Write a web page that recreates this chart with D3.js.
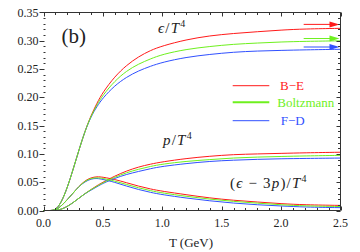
<!DOCTYPE html>
<html><head><meta charset="utf-8">
<script src="https://cdn.jsdelivr.net/npm/d3@7"></script>
<style>html,body{margin:0;padding:0;background:#fff}svg{display:block}</style>
</head><body>
<svg id="c" width="360" height="252"></svg>
<script>
// ---- data ----
const T = [0,0.05,0.1,0.15,0.2,0.25,0.3,0.35,0.4,0.45,0.5,0.6,0.7,0.8,0.9,1.0,1.2,1.4,1.6,1.8,2.0,2.2,2.5];
const epsBE   = [0,0,0,0.014,0.040,0.073,0.108,0.141,0.168,0.190,0.209,0.237,0.257,0.272,0.283,0.291,0.302,0.309,0.313,0.316,0.319,0.321,0.322];
const epsBoltz= [0,0,0,0.014,0.040,0.073,0.108,0.141,0.167,0.187,0.204,0.229,0.247,0.259,0.268,0.276,0.285,0.290,0.294,0.296,0.298,0.299,0.300];
const epsFD   = [0,0,0,0.014,0.040,0.073,0.108,0.141,0.166,0.184,0.199,0.221,0.236,0.247,0.255,0.262,0.271,0.276,0.280,0.282,0.283,0.284,0.285];
const pBE     = [0,0,0,0.002,0.007,0.014,0.022,0.030,0.037,0.044,0.050,0.061,0.070,0.077,0.082,0.086,0.092,0.096,0.099,0.100,0.101,0.102,0.103];
const pBoltz  = [0,0,0,0.002,0.007,0.014,0.022,0.030,0.037,0.043,0.049,0.059,0.067,0.073,0.078,0.082,0.087,0.090,0.093,0.0945,0.0955,0.0965,0.0975];
const pFD     = [0,0,0,0.002,0.007,0.014,0.022,0.030,0.036,0.042,0.048,0.057,0.064,0.069,0.074,0.078,0.083,0.087,0.089,0.0905,0.0915,0.092,0.0927];
const dBE     = [0,0,0,0.008,0.019,0.031,0.043,0.053,0.058,0.060,0.059,0.055,0.049,0.043,0.038,0.034,0.028,0.022,0.018,0.015,0.012,0.010,0.009];
const dBoltz  = [0,0,0,0.008,0.019,0.031,0.043,0.052,0.057,0.058,0.057,0.052,0.046,0.040,0.035,0.031,0.025,0.020,0.016,0.013,0.010,0.008,0.007];
const dFD     = [0,0,0,0.008,0.019,0.031,0.043,0.051,0.056,0.057,0.055,0.050,0.043,0.037,0.032,0.028,0.022,0.017,0.013,0.010,0.008,0.006,0.005];
const sbLimit = [0.329, 0.304, 0.289]; // B-E, Boltzmann, F-D (arrows)
const seriesNames = ["B\u2212E", "Boltzmann", "F\u2212D"];
const xTicks = [0,0.5,1.0,1.5,2.0,2.5];
const xTickLabels = ["0.0","0.5","1.0","1.5","2.0","2.5"];
const yTicks = [0,0.05,0.10,0.15,0.20,0.25,0.30,0.35];
const yTickLabels = ["0.00","0.05","0.10","0.15","0.20","0.25","0.30","0.35"];

// ---- layout ----
const colors = ["#ff1a1a", "#6ef01e", "#3050ff"];
const L = 43.5, R = 340.5, TOP = 12.5, BOT = 210.5;
const x = d3.scaleLinear().domain([0,2.5]).range([L,R]);
const y = d3.scaleLinear().domain([0,0.35]).range([BOT,TOP]);
const svg = d3.select("#c");
svg.append("rect").attr("width",360).attr("height",252).attr("fill","#fff");
const serif = "'Liberation Serif','DejaVu Serif',serif";
const axisCol = "#333";

// curves
const line = d3.line().x((d,i)=>x(T[i])).y(d=>y(d)).curve(d3.curveBasis);
const groups = [[epsBE,pBE,dBE],[epsBoltz,pBoltz,dBoltz],[epsFD,pFD,dFD]];
[0,2,1].forEach(k=>{
  groups[k].forEach(arr=>{
    svg.append("path").attr("d",line(arr)).attr("fill","none")
      .attr("stroke",colors[k]).attr("stroke-width",1);
  });
});

// arrows (Stefan-Boltzmann limits)
sbLimit.forEach((v,k)=>{
  const yy = y(v), x0 = x(2.19), x1 = x(2.5)-1;
  svg.append("line").attr("x1",x0).attr("x2",x1-9).attr("y1",yy).attr("y2",yy)
    .attr("stroke",colors[k]).attr("stroke-width",1);
  svg.append("path").attr("d",`M${x1-10},${yy-3}L${x1},${yy}L${x1-10},${yy+3}Z`)
    .attr("fill",colors[k]);
});

// frame
const fr = svg.append("g").attr("stroke",axisCol).attr("stroke-width",1).attr("fill","none");
fr.append("line").attr("x1",L).attr("x2",R).attr("y1",TOP).attr("y2",TOP);
fr.append("line").attr("x1",L).attr("x2",R).attr("y1",BOT).attr("y2",BOT);
fr.append("line").attr("x1",R).attr("x2",R).attr("y1",TOP).attr("y2",BOT);

// x ticks
const xMinor = d3.range(0,2.501,0.1);
xMinor.forEach(t=>{
  const major = xTicks.some(m=>Math.abs(m-t)<1e-6);
  const len = major?4:2.5;
  const xx = Math.round(x(t))+0.5;
  fr.append("line").attr("x1",xx).attr("x2",xx).attr("y1",BOT).attr("y2",BOT-len);
  fr.append("line").attr("x1",xx).attr("x2",xx).attr("y1",TOP).attr("y2",TOP+len);
});
// y ticks
const yMinor = d3.range(0,0.3501,0.01);
yMinor.forEach(v=>{
  const major = yTicks.some(m=>Math.abs(m-v)<1e-6);
  const yy = Math.round(y(v))+0.5;
  if(major){
    fr.append("line").attr("x1",L-4).attr("x2",L+1).attr("y1",yy).attr("y2",yy);
    fr.append("line").attr("x1",R-4).attr("x2",R).attr("y1",yy).attr("y2",yy);
  } else {
    fr.append("line").attr("x1",L).attr("x2",L+2).attr("y1",yy).attr("y2",yy);
    fr.append("line").attr("x1",R-2.5).attr("x2",R).attr("y1",yy).attr("y2",yy);
  }
});

// tick labels
xTicks.forEach((t,i)=>{
  svg.append("text").attr("x",x(t)).attr("y",227).attr("text-anchor","middle")
    .attr("font-family",serif).attr("font-size",12).attr("fill","#222").text(xTickLabels[i]);
});
yTicks.forEach((v,i)=>{
  svg.append("text").attr("x",38.5).attr("y",y(v)+4).attr("text-anchor","end")
    .attr("font-family",serif).attr("font-size",12).attr("fill","#222").text(yTickLabels[i]);
});
svg.append("text").attr("x",191).attr("y",246.5).attr("text-anchor","middle")
  .attr("font-family",serif).attr("font-size",13).attr("fill","#222").text("T (GeV)");

// panel label
svg.append("text").attr("x",61.5).attr("y",43).attr("font-family",serif).attr("font-size",21)
  .attr("fill","#222").text("(b)");

// math labels
function mathLabel(x0,y0,parts){
  const t = svg.append("text").attr("x",x0).attr("y",y0).attr("font-family",serif)
    .attr("font-size",15).attr("fill","#222").attr("letter-spacing",1.2);
  parts.forEach(p=>{
    const s = t.append("tspan").text(p.t);
    if(p.i) s.attr("font-style","italic");
    if(p.sup) s.attr("font-size",10).attr("dy",-6);
  });
}
mathLabel(158,33,[{t:"\u03f5",i:1},{t:"/"},{t:"T",i:1},{t:"4",sup:1}]);
mathLabel(163,145,[{t:"p",i:1},{t:"/"},{t:"T",i:1},{t:"4",sup:1}]);
mathLabel(230,188,[{t:"("},{t:"\u03f5",i:1},{t:" \u2212 3"},{t:"p",i:1},{t:")/"},{t:"T",i:1},{t:"4",sup:1}]);

// legend
const legY = [85.7,102.3,120.7], legX = [280,277.3,280.7];
seriesNames.forEach((n,k)=>{
  svg.append("line").attr("x1",232.7).attr("x2",269.3).attr("y1",legY[k]).attr("y2",legY[k])
    .attr("stroke",colors[k]).attr("stroke-width",k===1?2:1);
  svg.append("text").attr("x",legX[k]).attr("y",legY[k]+4.5).attr("font-family",serif)
    .attr("font-size",13).attr("fill",colors[k]).text(n);
});
</script>
</body></html>
